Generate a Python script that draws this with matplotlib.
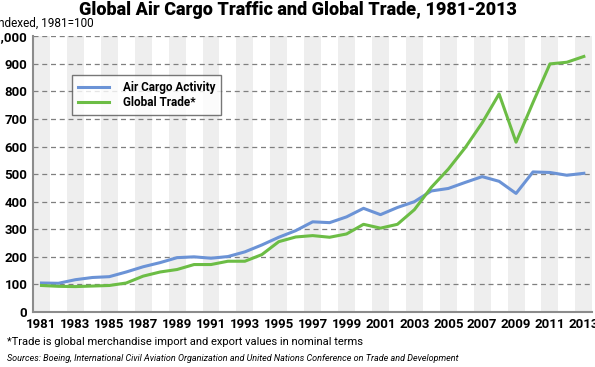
import matplotlib.pyplot as plt
import numpy as np

# Data
years = list(range(1981, 2014))
air_cargo = [105, 104, 117, 125, 128, 145, 164, 179, 197, 200, 195, 201, 218, 243, 271,
             295, 327, 324, 345, 376, 353, 379, 400, 439, 448, 470, 491, 474, 430, 508,
             506, 496, 503]
global_trade = [96, 93, 92, 94, 96, 105, 130, 145, 154, 172, 172, 184, 184, 208, 255,
                272, 277, 271, 283, 318, 304, 318, 371, 452, 518, 596, 686, 791, 616, 760,
                900, 906, 927]
tick_years = list(range(1981, 2014, 2))
y_ticks = list(range(0, 1001, 100))

blue = "#6B93D6"
green = "#6CBD45"
font = ["Roboto", "DejaVu Sans"]

fig = plt.figure(figsize=(5.95, 3.67), dpi=100)
ax = fig.add_axes([0.0555, 0.15, 0.94, 0.751])

# grey stripes on odd years
for y in tick_years:
    ax.axvspan(y - 0.5, y + 0.5, color="#EEEEEE", lw=0, zorder=0)

ax.plot(years, air_cargo, color=blue, lw=2.2, label="Air Cargo Activity", zorder=3)
ax.plot(years, global_trade, color=green, lw=2.2, label="Global Trade*", zorder=3)

ax.set_xlim(1980.5, 2013.5)
ax.set_ylim(0, 1000)
ax.set_xticks(tick_years)
ax.set_xticklabels([str(y) for y in tick_years], family=font, fontsize=9.5, fontweight="bold")
ax.set_yticks(y_ticks)
ax.set_yticklabels([f"{v:,}" for v in y_ticks], family=font, fontsize=9.5, fontweight="bold")
ax.tick_params(axis="both", length=0, pad=4)
ax.grid(axis="y", color="#7F7F7F", ls=(0, (4, 3)), lw=0.9, zorder=1)

for s in ["top", "right"]:
    ax.spines[s].set_visible(False)
for s in ["left", "bottom"]:
    ax.spines[s].set_color("#8C8C8C")
    ax.spines[s].set_linewidth(1.5)

leg = ax.legend(loc="upper left", bbox_to_anchor=(0.07, 0.86), frameon=True,
                fancybox=False, prop={"family": font, "size": 8.5, "weight": "bold"},
                handlelength=2.6, borderpad=0.5, labelspacing=0.2, handletextpad=1.2,
                borderaxespad=0)
leg.get_frame().set_edgecolor("#555555")
leg.get_frame().set_linewidth(1.0)

fig.text(0.5, 0.974, "Global Air Cargo Traffic and Global Trade, 1981-2013",
         ha="center", va="center", family=font, fontsize=13, fontweight="heavy")
fig.text(-0.009, 0.937, "Indexed, 1981=100", ha="left", va="center",
         family=font, fontsize=8.5)
fig.text(0.012, 0.068, "*Trade is global merchandise import and export values in nominal terms",
         ha="left", va="center", family=font, fontsize=8)
fig.text(0.012, 0.022, "Sources: Boeing, International Civil Aviation Organization and United Nations Conference on Trade and Development",
         ha="left", va="center", family=font, fontsize=6.5, style="italic")

fig.savefig("out.png", dpi=100)
